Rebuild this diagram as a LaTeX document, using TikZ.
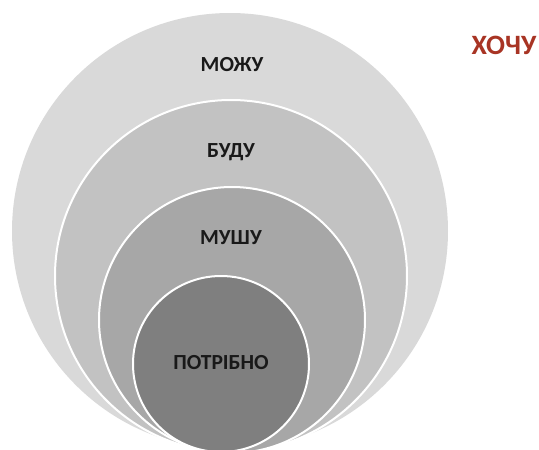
\documentclass[tikz,border=0pt]{standalone}
\usepackage{fontspec}
\setmainfont{Carlito}
\definecolor{ringA}{RGB}{217,217,217}
\definecolor{ringB}{RGB}{194,194,194}
\definecolor{ringC}{RGB}{167,167,167}
\definecolor{ringD}{RGB}{127,127,127}
\definecolor{wantred}{RGB}{168,52,36}
\begin{document}
\begin{tikzpicture}[x=1pt,y=-1pt,
  ring/.style={draw=white,line width=2pt},
  lbl/.style={font=\fontsize{21.5}{24}\selectfont\bfseries,text=black!90,inner sep=0pt}]
\useasboundingbox (0,0) rectangle (539,450);
\fill[white] (0,0) rectangle (539,450);
\fill[ringA] (230,231) circle[radius=218];
\draw[ring,fill=ringB] (231,276) circle[radius=176];
\draw[ring,fill=ringC] (232,320) circle[radius=133];
\draw[ring,fill=ringD] (221,364) circle[radius=88];
\node[lbl] (mozhu) at (232,65) {МОЖУ};
\node[lbl] (budu) at (231,152) {БУДУ};
\node[lbl] (mushu) at (231,238) {МУШУ};
\node[lbl] (potribno) at (221,363) {ПОТРІБНО};
\node[font=\fontsize{28}{32}\selectfont\bfseries,text=wantred,inner sep=0pt] (khochu) at (504,45) {ХОЧУ};
\end{tikzpicture}
\end{document}
